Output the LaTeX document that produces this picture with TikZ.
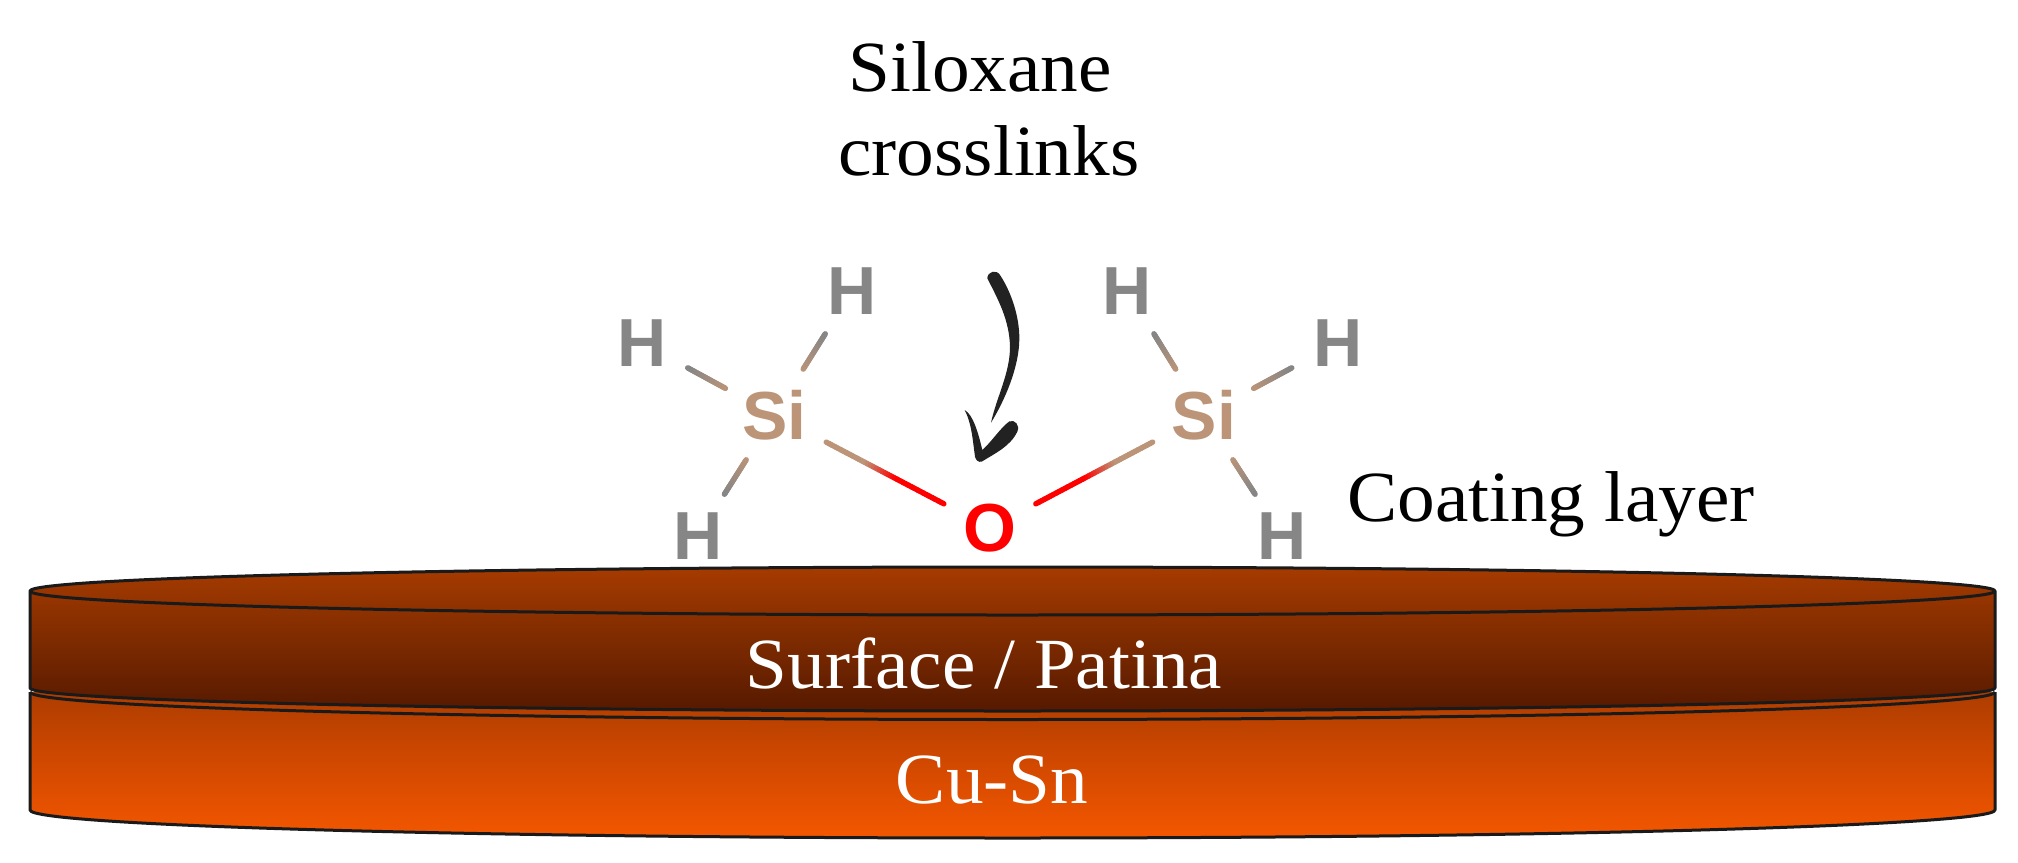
\documentclass[tikz,border=0pt]{standalone}
\usepackage{fontspec}
\setmainfont{Liberation Serif}[FakeStretch=1.045]
\newfontfamily\labelfont{Liberation Sans}
\usetikzlibrary{calc}
\definecolor{hgray}{HTML}{868686}
\definecolor{sitan}{HTML}{BC9478}
\definecolor{oxred}{HTML}{FF0000}
\definecolor{rimline}{HTML}{1A1A1A}
\definecolor{inkblack}{HTML}{222222}
\definecolor{patinaA}{HTML}{A63B00}
\definecolor{patinaB}{HTML}{7E2B00}
\definecolor{patinaC}{HTML}{561900}
\definecolor{bronzeA}{HTML}{AE3D00}
\definecolor{bronzeB}{HTML}{D24900}
\definecolor{bronzeC}{HTML}{F45700}
\tikzset{
  x=1pt,y=-1pt,
  atomlabel/.style={inner sep=0pt,font=\labelfont\bfseries\fontsize{68}{68}\selectfont},
  hatom/.style={atomlabel,text=hgray},
  siatom/.style={atomlabel,text=sitan},
  oatom/.style={atomlabel,text=oxred},
  caption/.style={inner sep=0pt,anchor=base,font=\fontsize{72}{84}\selectfont},
  rim/.style={draw=rimline,line width=3pt},
}
% gradient connector: from node #1 to node #2, drawn between fractions #3 and #4,
% colour passes from #5 to #6 between the fractions #7 and #8 of the visible part
\newcommand{\gradbond}[8]{%
  \foreach \i in {0,...,39}{%
    \pgfmathsetmacro\ta{#3+(#4-#3)*\i/40}%
    \pgfmathsetmacro\tb{#3+(#4-#3)*(\i+1)/40}%
    \pgfmathsetmacro\mixv{100*max(0,min(1,((\i+.5)/40-#7)/(#8-#7)))}%
    \draw[color={#6!\mixv!#5},line width=5.4pt,line cap=round] ($(#1)!\ta!(#2)$) -- ($(#1)!\tb!(#2)$);
  }%
}
\begin{document}
\begin{tikzpicture}
\useasboundingbox (0,0) rectangle (2018,862);
\fill[white] (0,0) rectangle (2018,862);

% Cu-Sn cylinder
\path[top color=bronzeA,bottom color=bronzeC,middle color=bronzeB]
  (30,692) -- (30,810) .. controls (30,825.5) and (470,838) .. (1012.5,838)
  .. controls (1555,838) and (1995,825.5) .. (1995,810) -- (1995,692) -- cycle;
\draw[rim,line join=round]
  (30,692) -- (30,810) .. controls (30,825.5) and (470,838) .. (1012.5,838)
  .. controls (1555,838) and (1995,825.5) .. (1995,810) -- (1995,692);
\draw[rim] (30,692) .. controls (30,707) and (470,719.5) .. (1012.5,719.5)
  .. controls (1555,719.5) and (1995,707) .. (1995,692);

% Patina cylinder
\path[top color=patinaA,bottom color=patinaC,middle color=patinaB]
  (30,591) .. controls (30,577.7) and (470,567) .. (1012.5,567)
  .. controls (1555,567) and (1995,577.7) .. (1995,591)
  -- (1995,688) .. controls (1995,700.7) and (1555,711) .. (1012.5,711)
  .. controls (470,711) and (30,700.7) .. (30,688) -- cycle;
\draw[rim,line join=round]
  (30,591) .. controls (30,577.7) and (470,567) .. (1012.5,567)
  .. controls (1555,567) and (1995,577.7) .. (1995,591)
  -- (1995,688) .. controls (1995,700.7) and (1555,711) .. (1012.5,711)
  .. controls (470,711) and (30,700.7) .. (30,688) -- cycle;
\draw[rim] (30,591) .. controls (30,604.3) and (470,615) .. (1012.5,615)
  .. controls (1555,615) and (1995,604.3) .. (1995,591);

% captions
\node[caption,align=center,anchor=north] (title) at (989,41) {Siloxane\hspace*{18pt}\\crosslinks};
\node[caption] (coating) at (1551,521) {Coating layer};
\node[caption,text=white] (patina) at (984,688) {Surface / Patina};
\node[caption,text=white] (bronze) at (992,803) {Cu-Sn};

% molecule
\node[hatom] (h1) at (642,343) {H};
\node[hatom] (h2) at (852,291) {H};
\node[hatom] (h3) at (698,536) {H};
\node[hatom] (h4) at (1127.5,291) {H};
\node[hatom] (h5) at (1338,343) {H};
\node[hatom] (h6) at (1282,536) {H};
\node[siatom] (si1) at (774.5,415) {Si};
\node[siatom] (si2) at (1204,415) {Si};
\node[oatom] (ox) at (990,528) {O};

\gradbond{si1}{h1}{.37}{.655}{sitan}{hgray}{0}{1}
\gradbond{si1}{h2}{.37}{.655}{sitan}{hgray}{0}{1}
\gradbond{si1}{h3}{.37}{.655}{sitan}{hgray}{0}{1}
\gradbond{si2}{h4}{.37}{.655}{sitan}{hgray}{0}{1}
\gradbond{si2}{h5}{.37}{.655}{sitan}{hgray}{0}{1}
\gradbond{si2}{h6}{.37}{.655}{sitan}{hgray}{0}{1}
\gradbond{si1}{ox}{.24}{.786}{sitan}{oxred}{.34}{.6}
\gradbond{si2}{ox}{.24}{.786}{sitan}{oxred}{.34}{.6}

% hand-drawn arrow
\begin{scope}[shift={(930,250)},scale=1/3]
\fill[inkblack]
  (172,85) .. controls (172,65) and (200,55) .. (212,78)
  .. controls (245,130) and (268,200) .. (268,265)
  .. controls (268,350) and (225,450) .. (183,518)
  .. controls (200,440) and (240,370) .. (240,290)
  .. controls (238,210) and (205,150) .. (172,85) -- cycle;
\fill[inkblack]
  (104,480) .. controls (130,495) and (145,550) .. (157,600)
  .. controls (185,575) and (210,535) .. (238,514)
  .. controls (255,508) and (270,525) .. (262,545)
  .. controls (240,590) and (195,610) .. (155,635)
  .. controls (145,638) and (137,630) .. (135,620)
  .. controls (128,570) and (125,520) .. (104,480) -- cycle;
\end{scope}
\end{tikzpicture}
\end{document}
